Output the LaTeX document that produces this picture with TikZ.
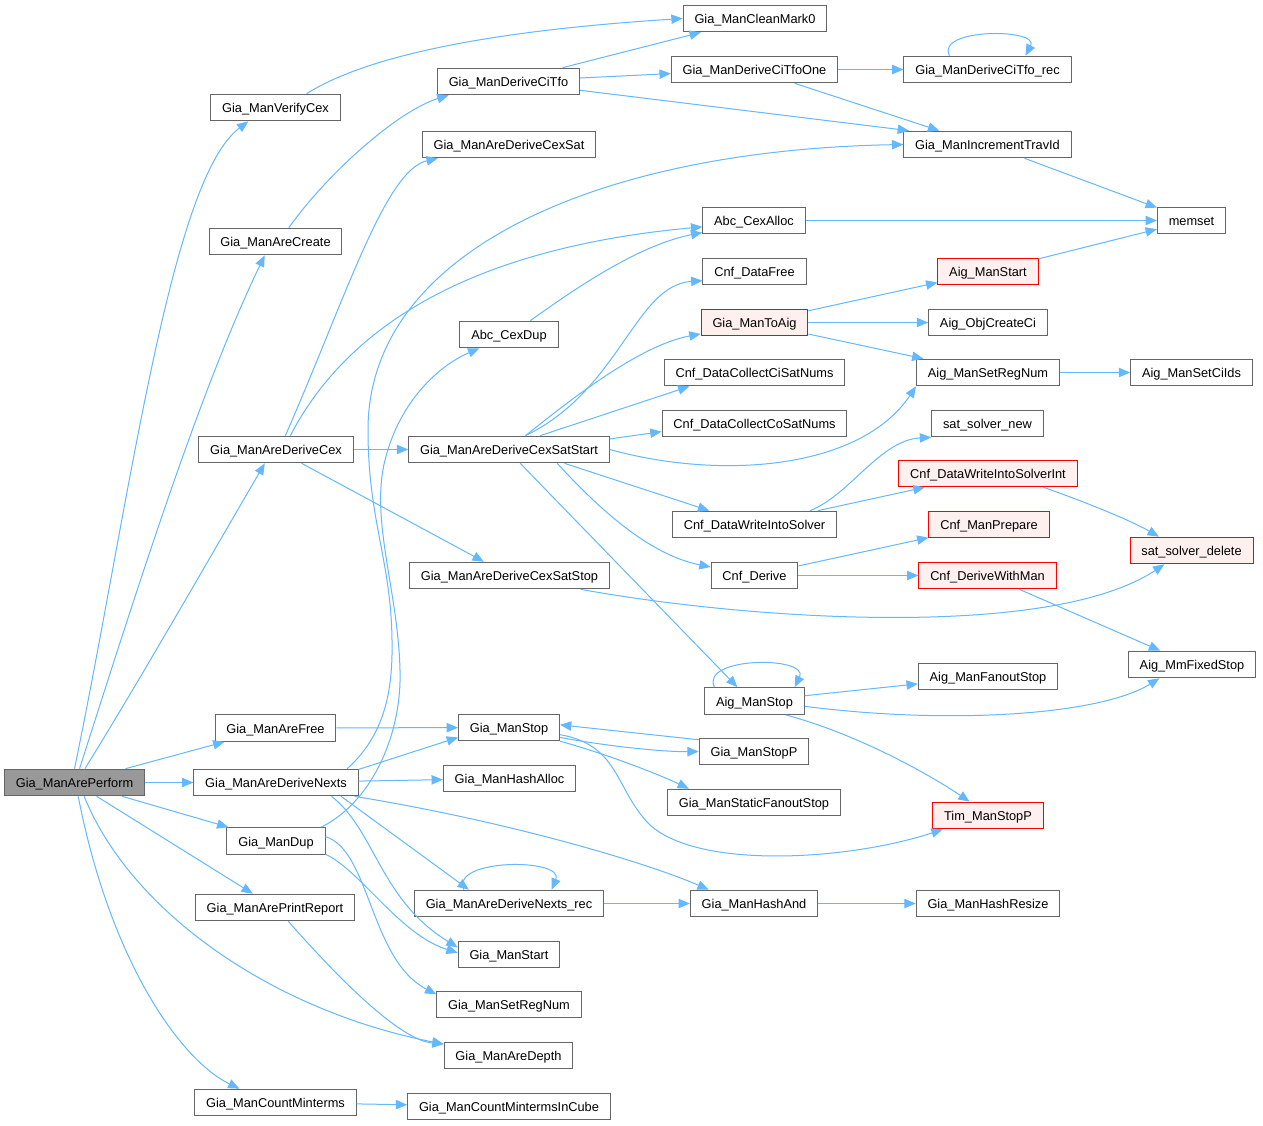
\documentclass[tikz,border=0pt]{standalone}
\usepackage{fontspec}
\setmainfont{Liberation Sans}
\usepackage{xcolor}
\usepackage{tikz}
\usetikzlibrary{arrows.meta}
\definecolor{cgedge}{RGB}{99,184,255}
\definecolor{cgbox}{RGB}{102,102,102}
\definecolor{cgred}{RGB}{255,0,0}
\definecolor{cgredfill}{RGB}{255,240,240}
\definecolor{cgroot}{RGB}{153,153,153}

\begin{document}
\begin{tikzpicture}[
    x=0.75pt, y=-0.75pt,
    func/.style={rectangle, draw=cgbox, fill=white, line width=0.75pt,
                 minimum height=20pt, inner xsep=8.5pt, inner ysep=0pt,
                 text height=8.5pt, text depth=0.7pt,
                 font=\fontsize{9.6}{11}\selectfont},
    funcred/.style={func, draw=cgred, fill=cgredfill},
    root/.style={func, fill=cgroot},
    callarrow/.style={-{Triangle[length=8.5pt,width=7pt]}, line width=0.75pt, cgedge}
]
\fill[white] (0,0) rectangle (1263,1125);
\useasboundingbox (0,0) rectangle (1263,1125);

\node[root] (perform) at (74.5,782.5) {Gia\_ManArePerform};

\node[func] (verify) at (275.5,107.5) {Gia\_ManVerifyCex};
\node[func] (create) at (275.5,241.5) {Gia\_ManAreCreate};
\node[func] (cex) at (276,449.5) {Gia\_ManAreDeriveCex};
\node[func] (arefree) at (275.5,728) {Gia\_ManAreFree};
\node[func] (nexts) at (276,782.5) {Gia\_ManAreDeriveNexts};
\node[func] (dup) at (276,841) {Gia\_ManDup};
\node[func] (report) at (275,907.5) {Gia\_ManArePrintReport};
\node[func] (count) at (275.5,1102.5) {Gia\_ManCountMinterms};

\node[func] (clean) at (755,18.5) {Gia\_ManCleanMark0};
\node[func] (citfo) at (508.5,81.5) {Gia\_ManDeriveCiTfo};
\node[func] (cexsat) at (509,144.5) {Gia\_ManAreDeriveCexSat};
\node[func] (cexdup) at (509,334.5) {Abc\_CexDup};
\node[func] (satstart) at (509,449.5) {Gia\_ManAreDeriveCexSatStart};
\node[func] (satstop) at (509.5,575.5) {Gia\_ManAreDeriveCexSatStop};
\node[func] (manstop) at (509,727.5) {Gia\_ManStop};
\node[func] (hashalloc) at (509.5,778.5) {Gia\_ManHashAlloc};
\node[func] (rec) at (509,903.5) {Gia\_ManAreDeriveNexts\_rec};
\node[func] (start) at (509,954.5) {Gia\_ManStart};
\node[func] (setreg) at (509,1004.5) {Gia\_ManSetRegNum};
\node[func] (depth) at (508.5,1055.5) {Gia\_ManAreDepth};
\node[func] (cube) at (509,1106.5) {Gia\_ManCountMintermsInCube};

\node[func] (tfoone) at (754.5,69.5) {Gia\_ManDeriveCiTfoOne};
\node[func] (cexalloc) at (754,220.5) {Abc\_CexAlloc};
\node[func] (datafree) at (754.5,271.5) {Cnf\_DataFree};
\node[funcred] (toaig) at (754.5,322.5) {Gia\_ManToAig};
\node[func] (cisat) at (754.5,372.5) {Cnf\_DataCollectCiSatNums};
\node[func] (cosat) at (754.5,423.5) {Cnf\_DataCollectCoSatNums};
\node[func] (writesolver) at (754.5,524.5) {Cnf\_DataWriteIntoSolver};
\node[func] (cnfderive) at (754.5,575.5) {Cnf\_Derive};
\node[func] (aigstop) at (754.5,701) {Aig\_ManStop};
\node[func] (stopp) at (754,751.5) {Gia\_ManStopP};
\node[func] (staticfo) at (754,802.5) {Gia\_ManStaticFanoutStop};
\node[func] (hashand) at (754,903.5) {Gia\_ManHashAnd};

\node[func] (tforec) at (987.5,69.5) {Gia\_ManDeriveCiTfo\_rec};
\node[func] (travid) at (987.5,144.5) {Gia\_ManIncrementTravId};
\node[funcred] (aigstart) at (988,271.5) {Aig\_ManStart};
\node[func] (objci) at (988,322.5) {Aig\_ObjCreateCi};
\node[func] (aigsetreg) at (988,372.5) {Aig\_ManSetRegNum};
\node[func] (satnew) at (987.5,423.5) {sat\_solver\_new};
\node[funcred] (solverint) at (988,473.5) {Cnf\_DataWriteIntoSolverInt};
\node[funcred] (prepare) at (989,524.5) {Cnf\_ManPrepare};
\node[funcred] (withman) at (987.5,575.5) {Cnf\_DeriveWithMan};
\node[func] (fanoutstop) at (988,676.5) {Aig\_ManFanoutStop};
\node[funcred] (timstop) at (988,815.5) {Tim\_ManStopP};
\node[func] (hashresize) at (988,903.5) {Gia\_ManHashResize};

\node[func] (memset) at (1191.5,220.5) {memset};
\node[func] (setciids) at (1191.5,372.5) {Aig\_ManSetCiIds};
\node[funcred] (satdel) at (1191.5,550.5) {sat\_solver\_delete};
\node[func] (mmfixed) at (1192,664.5) {Aig\_MmFixedStop};

\draw[callarrow] (perform.90) .. controls (130,500) and (170,180) .. (verify.207);
\draw[callarrow] (perform.70) .. controls (140,580) and (200,390) .. (create.232);
\draw[callarrow] (perform.53) .. controls (140,680) and (220,540) .. (cex.231);
\draw[callarrow] (perform) -- (arefree);
\draw[callarrow] (perform) -- (nexts);
\draw[callarrow] (perform) -- (dup);
\draw[callarrow] (perform) -- (report);
\draw[callarrow] (perform.-55) .. controls (130,910) and (270,1010) .. (depth.170);
\draw[callarrow] (perform.-75) .. controls (110,960) and (180,1060) .. (count.159);

\draw[callarrow] (verify.24) .. controls (360,60) and (470,32) .. (clean.west);
\draw[callarrow] (create.46) .. controls (330,170) and (400,110) .. (citfo.193);
\draw[callarrow] (cex.56) .. controls (345,300) and (385,170) .. (cexsat.191);
\draw[callarrow] (cex.44) .. controls (340,340) and (450,250) .. (cexalloc.187);
\draw[callarrow] (cex) -- (satstart);
\draw[callarrow] (cex) -- (satstop);
\draw[callarrow] (arefree) -- (manstop);

\draw[callarrow] (nexts.11) .. controls (385,735) and (393,690) .. (392,640)
    .. controls (391,560) and (368,520) .. (368,430)
    .. controls (368,250) and (600,150) .. (travid.west);
\draw[callarrow] (nexts.9) -- (manstop.191);
\draw[callarrow] (nexts) -- (hashalloc);
\draw[callarrow] (nexts.-10) .. controls (500,820) and (640,860) .. (hashand.163);
\draw[callarrow] (nexts.-12) -- (rec.161);
\draw[callarrow] (nexts.-14) .. controls (375,830) and (380,900) .. (start.172);

\draw[callarrow] (dup.17) .. controls (375,800) and (402,730) .. (400,670)
    .. controls (398,590) and (370,520) .. (385,460)
    .. controls (400,400) and (440,365) .. (cexdup.205);
\draw[callarrow] (dup.-15) .. controls (360,870) and (400,935) .. (start.178);
\draw[callarrow] (dup.5) .. controls (370,850) and (370,960) .. (setreg.172);
\draw[callarrow] (report.-46) .. controls (340,980) and (400,1040) .. (depth.170);
\draw[callarrow] (count) -- (cube);

\draw[callarrow] (citfo) -- (clean);
\draw[callarrow] (citfo) -- (tfoone);
\draw[callarrow] (citfo) -- (travid.170);
\draw[callarrow] (tfoone) -- (tforec);
\draw[callarrow] (tfoone.-19) -- (travid.164);
\draw[callarrow] (tforec.160) .. controls (935,28) and (1040,28) .. (tforec.20);
\draw[callarrow] (travid) -- (memset);
\draw[callarrow] (cexalloc) -- (memset);
\draw[callarrow] (aigstart) -- (memset);
\draw[callarrow] (cexdup.33) .. controls (580,285) and (640,245) .. (cexalloc.193);

\draw[callarrow] (satstart.40) .. controls (620,390) and (635,285) .. (datafree.190);
\draw[callarrow] (satstart.40) .. controls (570,400) and (640,345) .. (toaig.192);
\draw[callarrow] (satstart.24) -- (cisat.192);
\draw[callarrow] (satstart.6) -- (cosat.185);
\draw[callarrow] (satstart.east) .. controls (720,480) and (860,470) .. (aigsetreg.south west);
\draw[callarrow] (satstart.-14) -- (writesolver.163);
\draw[callarrow] (satstart.-16) .. controls (600,510) and (650,555) .. (cnfderive.169);
\draw[callarrow] (satstart.-51) -- (aigstop.141);

\draw[callarrow] (toaig) -- (aigstart);
\draw[callarrow] (toaig) -- (objci);
\draw[callarrow] (toaig) -- (aigsetreg);
\draw[callarrow] (aigsetreg) -- (setciids);
\draw[callarrow] (writesolver.14) .. controls (850,495) and (880,440) .. (satnew.south west);
\draw[callarrow] (writesolver) -- (solverint);
\draw[callarrow] (solverint.-14) .. controls (1080,500) and (1130,520) .. (satdel.157);
\draw[callarrow] (cnfderive) -- (prepare);
\draw[callarrow] (cnfderive) -- (withman);
\draw[callarrow] (withman) -- (mmfixed);
\draw[callarrow] (satstop.-11) .. controls (750,620) and (1050,640) .. (satdel.207);

\draw[callarrow] (aigstop.161) .. controls (700,656) and (810,656) .. (aigstop.19);
\draw[callarrow] (aigstop) -- (fanoutstop);
\draw[callarrow] (aigstop.-6) .. controls (950,725) and (1100,715) .. (mmfixed.203);
\draw[callarrow] (aigstop.-24) .. controls (860,735) and (930,775) .. (timstop.143);

\draw[callarrow] (manstop.-11) .. controls (600,745) and (660,752) .. (stopp.west);
\draw[callarrow] (stopp.168) -- (manstop.3);
\draw[callarrow] (manstop.-15) .. controls (610,755) and (660,775) .. (staticfo.168);
\draw[callarrow] (manstop.-8) .. controls (620,745) and (615,790) .. (650,825)
    .. controls (700,870) and (850,860) .. (timstop.197);

\draw[callarrow] (rec.163) .. controls (450,858) and (565,858) .. (rec.18);
\draw[callarrow] (rec) -- (hashand);
\draw[callarrow] (hashand) -- (hashresize);
\end{tikzpicture}
\end{document}
